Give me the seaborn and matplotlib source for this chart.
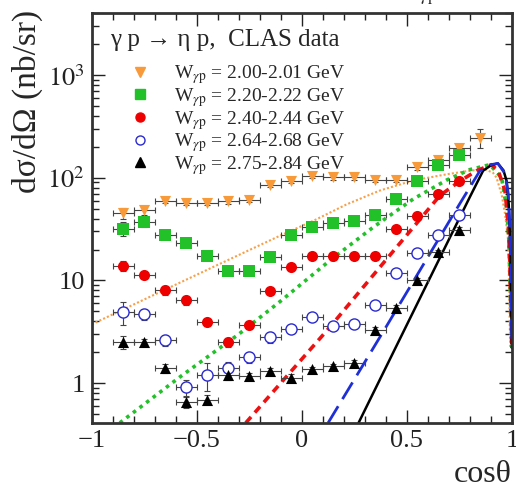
import numpy as np
import matplotlib
matplotlib.use("Agg")
import matplotlib.pyplot as plt
import seaborn as sns
from matplotlib.ticker import FixedLocator, FixedFormatter, LogLocator, NullFormatter, MultipleLocator

# CLAS data, cos(theta) bin centres
cos_bins = [-0.85, -0.75, -0.65, -0.55, -0.45, -0.35, -0.25, -0.15, -0.05,
            0.05, 0.15, 0.25, 0.35, 0.45, 0.55, 0.65, 0.75, 0.85]

w200 = [45, 48, 60, 57, 57, 59, 61, 85, 93, 104, 101, 101, 95, 95, 126, 148, 193, 246]
w220 = [32, 37, 27.5, 23.4, 17.4, 12.3, 12.3, 16.8, 27.8, 33.4, 36, 38, 43.6, 62, 92, 133, 165]
w240 = [13.9, 11.2, 8.1, 6.4, 3.9, 2.5, 3.7, 7.9, 13.5, 17.1, 17.1, 17.1, 17.1, 32, 42.8, 70, 93.5]
w264 = [4.9, 4.7, 2.6, 0.91, 1.2, 1.4, 1.8, 2.8, 3.4, 4.4, 3.6, 3.8, 5.7, 11.7, 18.6, 28, 43]
w275 = [2.5, 2.5, 1.39, 0.65, 0.69, 1.21, 1.17, 1.31, 1.13, 1.36, 1.46, 1.57, 3.3, 5.4, 10, 18.8, 31]

# relative errors
e200 = [0.12, 0.10, 0.06, 0.05, 0.05, 0.05, 0.05, 0.05, 0.05, 0.05, 0.05, 0.05, 0.05, 0.05, 0.05, 0.06, 0.08, 0.21]
e220 = [0.15, 0.10, 0.07, 0.06, 0.06, 0.05, 0.05, 0.05, 0.05, 0.05, 0.05, 0.05, 0.05, 0.05, 0.05, 0.05, 0.06]
e240 = [0.12, 0.08, 0.10, 0.10, 0.08, 0.10, 0.10, 0.06, 0.05, 0.05, 0.05, 0.05, 0.05, 0.05, 0.05, 0.05, 0.05]
e264 = [0.25, 0.12, 0.12, 0.18, 0.30, 0.15, 0.12, 0.12, 0.08, 0.06, 0.06, 0.06, 0.06, 0.06, 0.06, 0.06, 0.06]
e275 = [0.15, 0.08, 0.10, 0.12, 0.10, 0.12, 0.08, 0.08, 0.08, 0.06, 0.06, 0.06, 0.06, 0.06, 0.06, 0.06, 0.06]

# model curves
c200_x = [-1.0, -0.7, -0.4, -0.105, 0.054, 0.213, 0.371, 0.53, 0.689, 0.8, 0.87, 0.91, 0.927, 0.951, 0.967, 0.983, 0.992]
c200_y = [3.74, 7.3, 14.2, 27.2, 38, 55, 75, 94, 108, 117, 121, 112, 100, 69, 45, 24.4, 2.2]
c220_x = [-0.867, -0.58, -0.3, -0.105, 0.133, 0.34, 0.53, 0.69, 0.8, 0.895, 0.951, 0.975, 0.986, 1.0]
c220_y = [0.41, 1.15, 3.0, 6.2, 15.6, 33, 62, 95, 120, 134, 100, 51, 24, 2.2]
c240_x = [-0.267, 0.133, 0.4, 0.657, 0.75, 0.832, 0.903, 0.935, 0.967, 0.983, 0.99, 1.0]
c240_y = [0.41, 3.5, 15.8, 67, 92, 117, 134, 117, 75, 35, 15.6, 2.2]
c264_x = [0.125, 0.4, 0.6, 0.75, 0.848, 0.9, 0.933, 0.967, 0.983, 0.99, 0.995, 1.0]
c264_y = [0.41, 3.5, 16.9, 55, 117, 134, 138, 110, 70, 36, 12, 2.2]
c275_x = [0.27, 0.5, 0.7, 0.8, 0.863, 0.9, 0.933, 0.96, 0.975, 0.985, 0.99, 0.995, 1.0]
c275_y = [0.41, 3.7, 25, 65, 117, 132, 138, 118, 93, 55, 30, 10, 2.2]

labels = ["2.00-2.01", "2.20-2.22", "2.40-2.44", "2.64-2.68", "2.75-2.84"]
xtick_labels = ["\u22121", "\u22120.5", "0", "0.5", "1"]
ytick_labels = ["1", "10", "$10^2$", "$10^3$"]

sns.set_style("ticks", {"xtick.direction": "in", "ytick.direction": "in"})
plt.rcParams["font.family"] = ["Liberation Serif", "DejaVu Serif"]
plt.rcParams["mathtext.fontset"] = "stix"

fig = plt.figure(figsize=(5.16, 4.90), dpi=100)
ax = fig.add_axes([0.178, 0.137, 0.814, 0.836])

# curves
sns.lineplot(x=c200_x, y=c200_y, ax=ax, color="#f7a04a", lw=1.5, sort=False, estimator=None)
ax.lines[-1].set_dashes([1, 1])
sns.lineplot(x=c220_x, y=c220_y, ax=ax, color="#22c12a", lw=2.6, sort=False, estimator=None)
ax.lines[-1].set_dashes([1, 1.3])
sns.lineplot(x=c240_x, y=c240_y, ax=ax, color="#ee1111", lw=2.6, sort=False, estimator=None)
ax.lines[-1].set_dashes([2.2, 1.6])
sns.lineplot(x=c275_x, y=c275_y, ax=ax, color="black", lw=1.8, sort=False, estimator=None)
sns.lineplot(x=c264_x, y=c264_y, ax=ax, color="#1f2fd8", lw=2.0, sort=False, estimator=None)
ax.lines[-1].set_dashes([7, 3])

series = [
    (w200, e200, "v", "#f99a3a", "#f99a3a"),
    (w220, e220, "s", "#22c12a", "#22c12a"),
    (w240, e240, "o", "#ee0000", "#ee0000"),
    (w264, e264, "o", "white", "#2a2ad0"),
    (w275, e275, "^", "black", "black"),
]

handles = []
for (vals, rel, mk, fc, ec) in series:
    xs = cos_bins[:len(vals)]
    yerr = np.array(vals) * np.array(rel)
    ax.errorbar(xs, vals, xerr=0.05, yerr=yerr, fmt="none", ecolor="#444444",
                elinewidth=0.8, capsize=2.5, capthick=0.8, zorder=3)
    sns.scatterplot(x=xs, y=vals, ax=ax, marker=mk, s=64, color=fc,
                    edgecolor=ec, linewidth=1.0 if fc == "white" else 0, zorder=4)
    h, = ax.plot([], [], ls="none", marker=mk, ms=6.5, mfc=fc, mec=ec, mew=1.0)
    handles.append(h)

ax.text(0.043, 0.934, "\u03b3 p \u2192 \u03b7 p,  CLAS data", transform=ax.transAxes,
        fontsize=18, ha="left", va="center")
ax.legend(handles, [r"W$_{\gamma\mathrm{p}}$ = " + l + " GeV" for l in labels],
          loc="upper left", bbox_to_anchor=(0.05, 0.878), frameon=False, fontsize=14,
          handlelength=2.8, handletextpad=0.35, labelspacing=-0.01,
          borderpad=0, borderaxespad=0)

ax.set_yscale("log")
ax.set_xlim(-1, 1)
ax.set_ylim(0.41, 4000)

ax.xaxis.set_major_locator(FixedLocator([-1, -0.5, 0, 0.5, 1]))
ax.xaxis.set_major_formatter(FixedFormatter(xtick_labels))
ax.xaxis.set_minor_locator(MultipleLocator(0.1))
ax.yaxis.set_major_locator(FixedLocator([1, 10, 100, 1000]))
ax.yaxis.set_major_formatter(FixedFormatter(ytick_labels))
ax.yaxis.set_minor_locator(LogLocator(base=10, subs=np.arange(2, 10)))
ax.yaxis.set_minor_formatter(NullFormatter())

ax.tick_params(which="both", direction="in", top=True, right=True, labelsize=19, colors="#222222")
ax.tick_params(which="major", length=9.5, width=1.0, pad=5)
ax.tick_params(which="minor", length=5, width=1.0)
for sp in ax.spines.values():
    sp.set_linewidth(2.0)
    sp.set_color("#333333")

fig.text(27 / 516, 1 - 10 / 490, "d\u03c3/d\u03a9 (nb/sr)", rotation=90, ha="center", va="top", fontsize=24)
fig.text(512 / 516, 1 - 474 / 490, "cos\u03b8", ha="right", va="center", fontsize=23)
# clipped remnant of the panel header above the frame
fig.text(398 / 516, 1 + 2 / 490, r"W$_{\gamma\mathrm{p}}$", ha="left", va="baseline", fontsize=17)

fig.savefig("out.png", dpi=100)
